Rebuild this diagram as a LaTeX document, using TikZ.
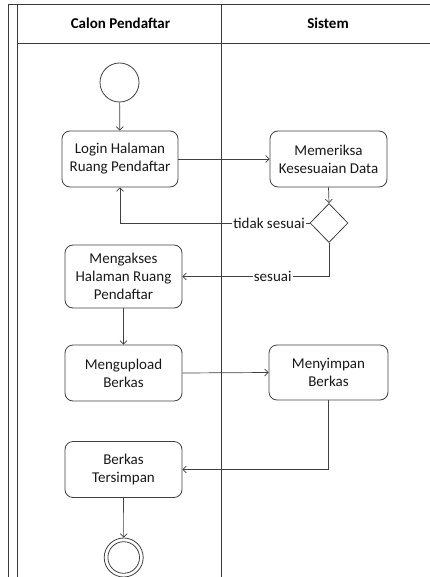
\documentclass[tikz,border=0pt]{standalone}
\usepackage{fontspec}
\setmainfont{Carlito}
\usetikzlibrary{arrows.meta,shapes.geometric}
\definecolor{lanecol}{HTML}{3A3A3A}
\definecolor{boxcol}{HTML}{404040}
\tikzset{
  lane/.style={draw=lanecol, line width=0.9pt},
  act/.style={draw=boxcol, line width=0.8pt, rounded corners=8pt, align=center,
    inner sep=2pt, font=\fontsize{15}{18}\selectfont, text=black!90},
  initnode/.style={circle, draw=boxcol, line width=0.8pt, minimum size=39pt, inner sep=0pt},
  decision/.style={diamond, draw=boxcol, line width=0.8pt, minimum width=38pt,
    minimum height=39pt, inner sep=0pt},
  flow/.style={draw=boxcol, line width=0.7pt, -{Straight Barb[length=3.5pt,width=7pt]}},
  guard/.style={fill=white, inner sep=1pt, font=\fontsize{15}{18}\selectfont, text=black!90},
  lanehead/.style={font=\bfseries\fontsize{15}{18}\selectfont, text=black}
}
\begin{document}
\begin{tikzpicture}[x=1pt, y=-1pt]
  \useasboundingbox (0,0) rectangle (430,577);

  % swimlane frame
  \draw[lane] (8,577) -- (8,4) -- (430,4);
  \draw[lane] (17,4) -- (17,577);
  \draw[lane] (17,43) -- (430,43);
  \draw[lane] (221,4) -- (221,577);
  \node[lanehead] (h1) at (120.5,23) {Calon Pendaftar};
  \node[lanehead] (h2) at (328,23) {Sistem};

  % activities
  \node[initnode] (start) at (119.5,82.5) {};
  \node[act, minimum width=116pt, minimum height=56pt] (login) at (120,159)
    {Login Halaman\\Ruang Pendaftar};
  \node[act, minimum width=117pt, minimum height=56pt] (cek) at (328.5,159)
    {Memeriksa\\Kesesuaian Data};
  \node[decision] (dec) at (329,223) {};
  \node[act, minimum width=117pt, minimum height=63pt] (akses) at (123.5,276.5)
    {Mengakses\\Halaman Ruang\\Pendaftar};
  \node[act, minimum width=117pt, minimum height=56pt] (upload) at (123.5,373)
    {Mengupload\\Berkas};
  \node[act, minimum width=119pt, minimum height=55pt] (simpan) at (328.5,372.5)
    {Menyimpan\\Berkas};
  \node[act, minimum width=117pt, minimum height=56pt] (hasil) at (123.5,469.5)
    {Berkas\\Tersimpan};
  \node[initnode] (final) at (123.7,557.5) {};
  \draw[boxcol, line width=0.8pt] (final.center) circle (15.8pt);

  % control flow
  \draw[flow] (start) -- (login);
  \draw[flow] (login.east) -- (cek.west);
  \draw[flow] (cek.south) -- (dec.north);
  \draw[flow] (dec.west) -| node[guard, pos=0.107] {tidak sesuai} (login.south);
  \draw[flow] (dec.south) |- node[guard, pos=0.692] {sesuai} (akses.east);
  \draw[flow] (akses) -- (upload);
  \draw[flow] (upload.east) -- (simpan.west);
  \draw[flow] (simpan.south) |- (hasil.east);
  \draw[flow] (hasil) -- (final);
\end{tikzpicture}
\end{document}
